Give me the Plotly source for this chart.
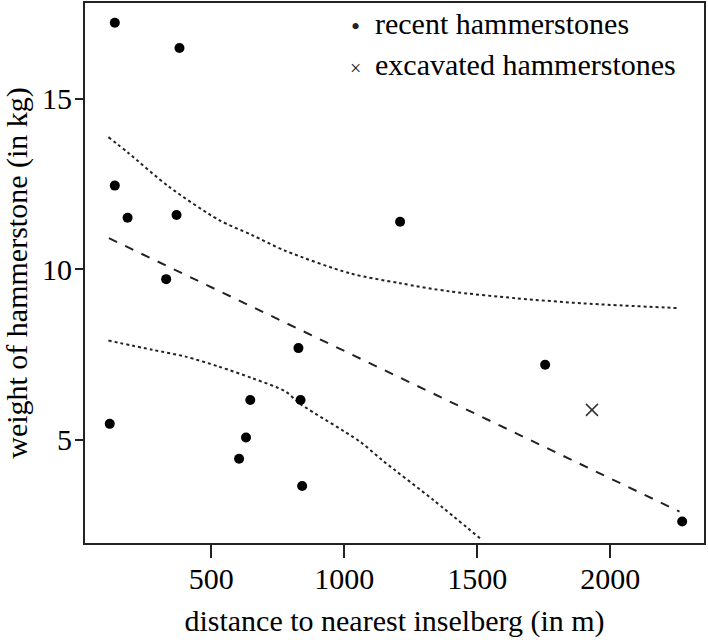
import plotly.graph_objects as go

# recent hammerstones
dist_recent = [138, 381, 138, 186, 370, 331, 119, 631, 605, 647, 828, 836, 842, 1210, 1755, 2270]
weight_recent = [17.22, 16.48, 12.45, 11.51, 11.59, 9.71, 5.47, 5.07, 4.45, 6.17, 7.69, 6.17, 3.65, 11.39, 7.20, 2.61]

# excavated hammerstone
dist_exc = [1931]
weight_exc = [5.88]

# regression line (dashed)
fit_x = [116, 2260]
fit_y = [10.91, 2.90]

# confidence band, upper (dotted)
upper_x = [114, 190, 341, 528, 654, 779, 1022, 1210, 1397, 1647, 1897, 2260]
upper_y = [13.87, 13.40, 12.42, 11.45, 11.00, 10.54, 9.88, 9.59, 9.35, 9.15, 9.00, 8.86]

# confidence band, lower (dotted)
lower_x = [114, 279, 404, 528, 654, 779, 836, 1059, 1147, 1335, 1510]
lower_y = [7.91, 7.64, 7.44, 7.15, 6.81, 6.42, 6.05, 4.95, 4.38, 3.24, 2.12]

x_ticks = [500, 1000, 1500, 2000]
y_ticks = [5, 10, 15]

legend_labels = ["recent hammerstones", "excavated hammerstones"]
legend_symbols = ["\u2022", "\u00d7"]

FONT = "Liberation Serif"
LINE = "#222222"
FS = 30

fig = go.Figure()

fig.add_trace(go.Scatter(x=upper_x, y=upper_y, mode="lines", showlegend=False,
                         line=dict(color=LINE, width=2, dash="dot", shape="spline", smoothing=0.8)))
fig.add_trace(go.Scatter(x=lower_x, y=lower_y, mode="lines", showlegend=False,
                         line=dict(color=LINE, width=2, dash="dot", shape="spline", smoothing=0.8)))
fig.add_trace(go.Scatter(x=fit_x, y=fit_y, mode="lines", showlegend=False,
                         line=dict(color=LINE, width=2, dash="dash")))

fig.add_trace(go.Scatter(x=dist_recent, y=weight_recent, mode="markers", showlegend=False,
                         name=legend_labels[0], marker=dict(color="black", size=10)))
fig.add_trace(go.Scatter(x=dist_exc, y=weight_exc, mode="markers", showlegend=False,
                         name=legend_labels[1],
                         marker=dict(symbol="x-thin", size=12, line=dict(color="#333", width=1.5))))

# legend drawn as text (plotly's own legend can't sit this close to the top edge)
row_y = [0.962, 0.8853]
sym_y = [0.957, 0.8790]
sym_size = [26, 20]
for i in range(2):
    fig.add_annotation(xref="paper", yref="paper", x=0.4362, y=sym_y[i],
                       text=legend_symbols[i], showarrow=False,
                       xanchor="center", yanchor="middle",
                       font=dict(family=FONT, size=sym_size[i], color="#222"))
    fig.add_annotation(xref="paper", yref="paper", x=0.4658, y=row_y[i],
                       text=legend_labels[i], showarrow=False,
                       xanchor="left", yanchor="middle",
                       font=dict(family=FONT, size=FS, color="black"))

axis_style = dict(showline=True, linecolor="#222", linewidth=2, mirror=True,
                  showgrid=False, zeroline=False, ticks="outside", tickcolor="#222",
                  tickwidth=2, automargin=False,
                  tickfont=dict(family=FONT, size=FS, color="black"))

# short major ticks keep labels close; minor ticks at same spots draw the longer marks
fig.update_xaxes(range=[26, 2352], tickvals=x_ticks, ticklen=8,
                 minor=dict(tickvals=x_ticks, ticks="outside", ticklen=13, tickwidth=2, tickcolor="#222"),
                 title=dict(text="distance to nearest inselberg (in m)",
                            font=dict(family=FONT, size=FS, color="black"), standoff=16),
                 **axis_style)
fig.update_yaxes(range=[1.98, 17.8], tickvals=y_ticks, ticklen=5,
                 minor=dict(tickvals=y_ticks, ticks="outside", ticklen=8, tickwidth=2, tickcolor="#222"),
                 title=dict(text="weight of hammerstone (in kg)",
                            font=dict(family=FONT, size=FS, color="black"), standoff=15),
                 **axis_style)

fig.update_layout(
    width=708, height=640,
    margin=dict(l=85, r=4, t=3, b=97),
    plot_bgcolor="white", paper_bgcolor="white",
    font=dict(family=FONT, color="black"),
    showlegend=False,
)

fig.write_html("out.html", config={"displayModeBar": False},
               post_script="document.body.style.margin='0';")
